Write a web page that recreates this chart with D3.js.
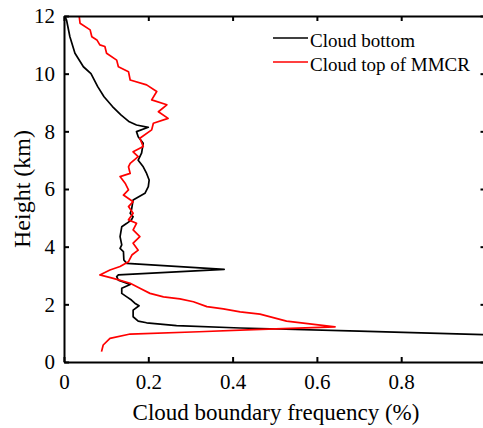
<!DOCTYPE html>
<html>
<head>
<meta charset="utf-8">
<script src="https://cdn.jsdelivr.net/npm/d3@7"></script>
<style>
  body { margin: 0; background: #fff; }
  svg { display: block; font-family: "Liberation Serif", "Times New Roman", serif; }
  .axis path, .axis line { stroke: #000; stroke-width: 2; }
  .axis text { font-size: 21px; fill: #000; font-family: "Liberation Serif", serif; }
</style>
</head>
<body>
<div id="chart"></div>
<script>
// Cloud bottom profile (height km, frequency %)
const bottomHeight = [12, 11.86, 11.28, 10.71, 10.24, 10.0, 9.55, 9.2, 8.86, 8.57, 8.33, 8.22, 8.14, 7.99, 7.81, 7.59, 7.24, 7.0, 6.77, 6.54, 6.31, 6.08, 5.85, 5.62, 5.27, 5.16, 5.04, 4.93, 4.81, 4.69, 4.35, 4.06, 3.94, 3.83, 3.54, 3.42, 3.21, 3.02, 2.96, 2.84, 2.69, 2.56, 2.38, 2.26, 2.15, 2.04, 1.95, 1.80, 1.57, 1.42, 1.36, 1.26, 1.18, 1.07, 0.95];
const bottomFreq = [0.002, 0.006, 0.014, 0.026, 0.046, 0.064, 0.08, 0.095, 0.115, 0.135, 0.155, 0.172, 0.2, 0.172, 0.176, 0.188, 0.184, 0.176, 0.188, 0.196, 0.202, 0.2, 0.192, 0.164, 0.16, 0.157, 0.164, 0.16, 0.149, 0.137, 0.133, 0.137, 0.133, 0.141, 0.142, 0.149, 0.38, 0.129, 0.125, 0.129, 0.157, 0.137, 0.137, 0.149, 0.16, 0.168, 0.178, 0.164, 0.164, 0.176, 0.196, 0.267, 0.418, 0.7, 1.0];

// Cloud top of MMCR profile
const topHeight = [12.0, 11.75, 11.52, 11.28, 11.17, 11.0, 10.94, 10.71, 10.47, 10.24, 10.07, 9.78, 9.61, 9.38, 9.09, 8.92, 8.68, 8.45, 8.28, 8.05, 7.76, 7.47, 7.29, 7.12, 6.89, 6.77, 6.54, 6.43, 6.2, 5.97, 5.79, 5.56, 5.39, 5.16, 4.93, 4.81, 4.58, 4.35, 4.12, 3.88, 3.71, 3.48, 3.31, 3.19, 3.02, 2.9, 2.73, 2.56, 2.38, 2.26, 2.19, 2.09, 1.92, 1.84, 1.74, 1.66, 1.42, 1.22, 1.12, 1.05, 0.97, 0.82, 0.59, 0.36];
const topFreq = [0.036, 0.038, 0.062, 0.066, 0.078, 0.085, 0.097, 0.101, 0.125, 0.129, 0.153, 0.157, 0.196, 0.22, 0.208, 0.244, 0.224, 0.247, 0.212, 0.208, 0.18, 0.188, 0.164, 0.176, 0.157, 0.153, 0.157, 0.133, 0.145, 0.153, 0.141, 0.164, 0.153, 0.164, 0.153, 0.172, 0.164, 0.18, 0.164, 0.176, 0.161, 0.153, 0.133, 0.109, 0.085, 0.117, 0.157, 0.18, 0.204, 0.236, 0.275, 0.307, 0.339, 0.378, 0.418, 0.465, 0.528, 0.643, 0.45, 0.32, 0.157, 0.109, 0.093, 0.089];

const xTicks = [0, 0.2, 0.4, 0.6, 0.8];
const yTicks = [0, 2, 4, 6, 8, 10, 12];

const seriesNames = ['Cloud bottom', 'Cloud top of MMCR'];
const seriesColors = ['#000000', '#ff0000'];

const width = 483;
const height = 428;
const margin = { top: 16, right: -2.5, bottom: 66, left: 64 };
const serif = '"Liberation Serif", "Times New Roman", serif';

const svg = d3.select('#chart').append('svg')
  .attr('width', width)
  .attr('height', height);

const x = d3.scaleLinear()
  .domain([0, 1])
  .range([margin.left, width - margin.right]);

const y = d3.scaleLinear()
  .domain([0, 12])
  .range([height - margin.bottom, margin.top]);

svg.append('clipPath')
  .attr('id', 'plot-clip')
  .append('rect')
  .attr('x', x(0))
  .attr('y', y(12))
  .attr('width', x(1) - x(0))
  .attr('height', y(0) - y(12));

const bottomData = bottomHeight.map((h, i) => ({ h: h, f: bottomFreq[i] }));
const topData = topHeight.map((h, i) => ({ h: h, f: topFreq[i] }));

const line = d3.line()
  .x(d => x(d.f))
  .y(d => y(d.h));

const plot = svg.append('g').attr('clip-path', 'url(#plot-clip)');

plot.append('path')
  .datum(bottomData)
  .attr('d', line)
  .attr('fill', 'none')
  .attr('stroke', seriesColors[0])
  .attr('stroke-width', 1.7)
  .attr('stroke-linejoin', 'round');

plot.append('path')
  .datum(topData)
  .attr('d', line)
  .attr('fill', 'none')
  .attr('stroke', seriesColors[1])
  .attr('stroke-width', 1.7)
  .attr('stroke-linejoin', 'round');

// axes, ticks pointing inward
const fmt = d3.format('~g');

svg.append('g')
  .attr('class', 'axis')
  .attr('transform', `translate(0,${y(0)})`)
  .call(d3.axisBottom(x).tickValues(xTicks).tickFormat(fmt).tickSizeInner(-5).tickSizeOuter(0).tickPadding(12))
  .call(g => g.attr('font-family', serif).selectAll('text').attr('dy', '0.71em'));

svg.append('g')
  .attr('class', 'axis')
  .attr('transform', `translate(0,${y(12)})`)
  .call(d3.axisTop(x).tickValues(xTicks).tickFormat('').tickSizeInner(-5).tickSizeOuter(0));

svg.append('g')
  .attr('class', 'axis')
  .attr('transform', `translate(${x(0)},0)`)
  .call(d3.axisLeft(y).tickValues(yTicks).tickFormat(fmt).tickSizeInner(-5).tickSizeOuter(0).tickPadding(9))
  .call(g => g.attr('font-family', serif));

svg.append('g')
  .attr('class', 'axis')
  .attr('transform', `translate(${x(1)},0)`)
  .call(d3.axisRight(y).tickValues(yTicks).tickFormat('').tickSizeInner(-5).tickSizeOuter(0));

// axis titles
svg.append('text')
  .attr('x', 276)
  .attr('y', 420)
  .attr('text-anchor', 'middle')
  .attr('font-family', serif)
  .style('font-size', '23px')
  .text('Cloud boundary frequency (%)');

svg.append('text')
  .attr('transform', 'translate(30,189) rotate(-90)')
  .attr('text-anchor', 'middle')
  .attr('font-family', serif)
  .style('font-size', '24px')
  .text('Height (km)');

// legend
const legend = svg.append('g').attr('transform', 'translate(273,38)');
seriesNames.forEach((name, i) => {
  const row = legend.append('g').attr('transform', `translate(0,${i * 24})`);
  row.append('line')
    .attr('x1', 0).attr('x2', 35)
    .attr('y1', 0).attr('y2', 0)
    .attr('stroke', seriesColors[i])
    .attr('stroke-width', 1.6);
  row.append('text')
    .attr('x', 37)
    .attr('y', 8.5)
    .attr('font-family', serif)
    .style('font-size', '19px')
    .text(name);
});
</script>
</body>
</html>
